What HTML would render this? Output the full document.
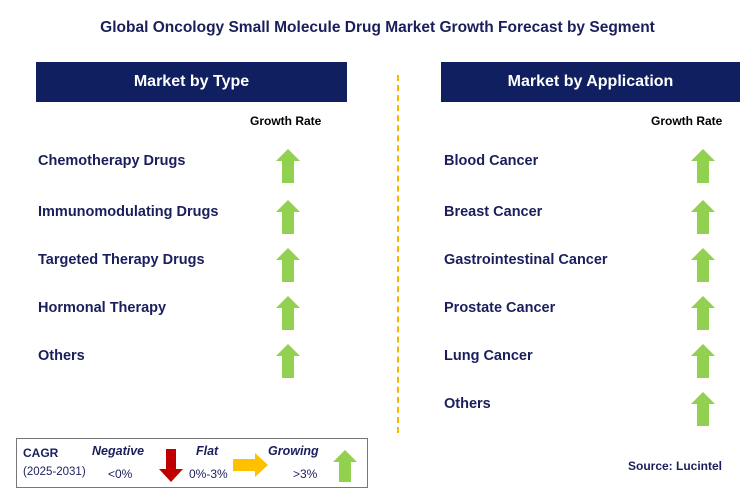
<!DOCTYPE html>
<html><head><meta charset="utf-8"><style>
body{margin:0;width:755px;height:502px;background:#fff;position:relative;font-family:"Liberation Sans",sans-serif;overflow:hidden}
.a{position:absolute}
.t{font-weight:bold;color:#1a1f5c;font-size:14.5px}
.h{background:#0f1f5f;color:#fff;font-weight:bold;font-size:16px;text-align:center;line-height:40px;height:40px}
.gr{font-weight:bold;font-size:12px;color:#000}
.up{width:26px;height:34px}
</style></head><body>
<div class="a" style="left:0;width:755px;top:19px;text-align:center;font-weight:bold;font-size:15.5px;color:#1a1f5c">Global Oncology Small Molecule Drug Market Growth Forecast by Segment</div>
<div class="a h" style="left:36px;width:311px;top:62px">Market by Type</div>
<div class="a h" style="left:441px;width:299px;top:62px">Market by Application</div>
<div class="a" style="left:397px;top:75px;height:358px;border-left:2px dashed #f5b800"></div>
<div class="a gr" style="left:250px;top:114px">Growth Rate</div>
<div class="a gr" style="left:651px;top:114px">Growth Rate</div>
<div id="rows"></div>
<div class="a" style="left:16px;top:438px;width:350px;height:48px;border:1px solid #777"></div>
<div class="a" style="left:23px;top:446px;font-weight:bold;font-size:12px;color:#1a1f5c">CAGR</div>
<div class="a" style="left:23px;top:466px;font-size:11.5px;color:#1a1f5c">(2025-2031)</div>
<div class="a" style="left:92px;top:444px;font-weight:bold;font-style:italic;font-size:12.5px;color:#1a1f5c">Negative</div>
<div class="a" style="left:108px;top:467px;font-size:12px;color:#1a1f5c">&lt;0%</div>
<svg class="a" style="left:158px;top:449px" width="26" height="34"><polygon points="8,0 18,0 18,20 25,20 13,33 1,20 8,20" fill="#c00000"/></svg>
<div class="a" style="left:196px;top:444px;font-weight:bold;font-style:italic;font-size:12.5px;color:#1a1f5c">Flat</div>
<div class="a" style="left:189px;top:467px;font-size:12px;color:#1a1f5c">0%-3%</div>
<svg class="a" style="left:233px;top:453px" width="36" height="24"><polygon points="0,6 22,6 22,0 35,12 22,24 22,18 0,18" fill="#ffc000"/></svg>
<div class="a" style="left:268px;top:444px;font-weight:bold;font-style:italic;font-size:12.5px;color:#1a1f5c">Growing</div>
<div class="a" style="left:293px;top:467px;font-size:12px;color:#1a1f5c">&gt;3%</div>
<svg class="a" style="left:332px;top:450px" width="26" height="32"><polygon points="13,0 25,12 19,12 19,32 7,32 7,12 1,12" fill="#92d050"/></svg>
<div class="a" style="left:628px;top:459px;font-weight:bold;font-size:12px;color:#1a1f5c">Source: Lucintel</div>
<script>
const typeItems=["Chemotherapy Drugs","Immunomodulating Drugs","Targeted Therapy Drugs","Hormonal Therapy","Others"];
const appItems=["Blood Cancer","Breast Cancer","Gastrointestinal Cancer","Prostate Cancer","Lung Cancer","Others"];
const ys=[161,212,260,308,356,404];
const root=document.getElementById('rows');
function add(list,lx,ax,prefix){
list.forEach((name,i)=>{
const d=document.createElement('div');d.className='a t';d.style.left=lx+'px';d.style.top=(ys[i]-8)+'px';d.textContent=name;


root.appendChild(d);
const s=document.createElementNS('http://www.w3.org/2000/svg','svg');
s.setAttribute('class','a up');s.style.left=(ax-13)+'px';s.style.top=(ys[i]-12)+'px';
s.setAttribute('width','26');s.setAttribute('height','34');
s.innerHTML='<polygon points="13,0 25,12 19,12 19,34 7,34 7,12 1,12" fill="#92d050"/>';


root.appendChild(s);
});}
add(typeItems,38,288,'type');
add(appItems,444,703,'application');
</script>
</body></html>
